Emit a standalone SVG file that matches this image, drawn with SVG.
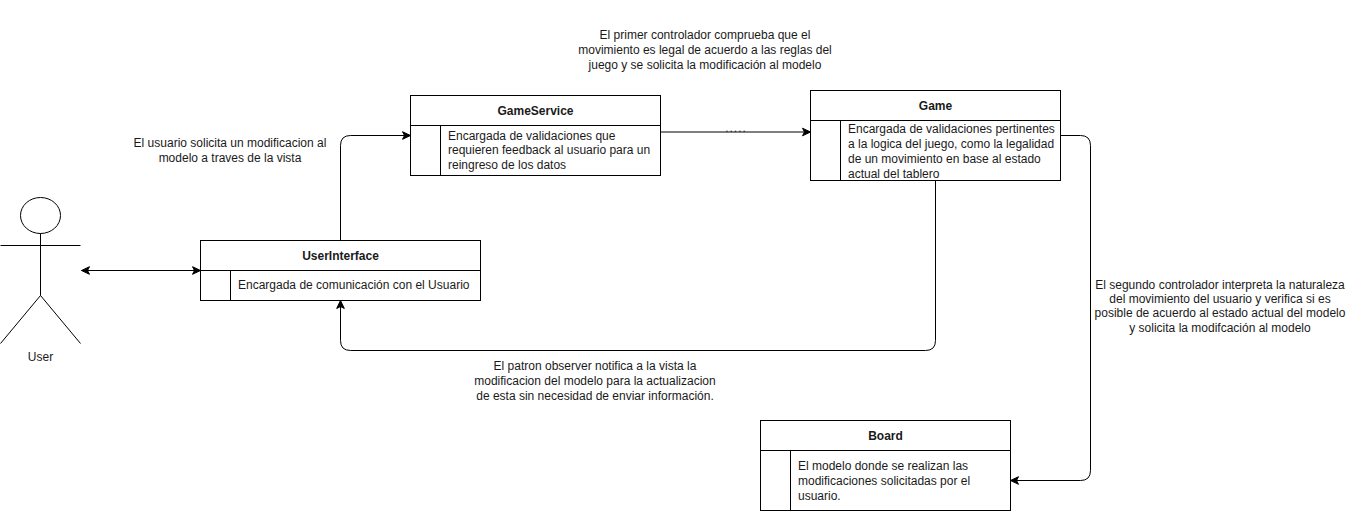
<svg xmlns="http://www.w3.org/2000/svg" width="1351" height="511" viewBox="0 0 1351 511">
<defs>
<marker id="arrow" markerUnits="userSpaceOnUse" markerWidth="10" markerHeight="10" refX="9" refY="5" orient="auto-start-reverse"><path d="M1 1.200L9 5L1 8.800L3 5Z" fill="#000" stroke="#000" stroke-width="1"/></marker>
</defs>
<style>
text{font-family:"Liberation Sans",Arial,sans-serif;font-size:12px;fill:#1a1a1a}
.s{fill:none;stroke:#000;stroke-width:1}
.b{fill:#fff;stroke:#000;stroke-width:1}
.t{font-weight:bold;text-anchor:middle}
.m{text-anchor:middle}
.c{fill:none;stroke:#000;stroke-width:1;marker-end:url(#arrow)}
</style>
<rect width="1351" height="511" fill="#fff"/>
<g id="connectors">
<path class="c" style="marker-start:url(#arrow)" d="M81.500 270.500H200.500"/>
<path class="c" d="M340.500 240.500V145.500Q340.500 135.500 350.500 135.500H410.500"/>
<path class="c" d="M660.500 132H810.500"/>
<path class="c" d="M935.500 180.500V340.500Q935.500 350.500 925.500 350.500H350.500Q340.500 350.500 340.500 340.500V300.500"/>
<path class="c" d="M1060.500 135.500H1080.500Q1090.500 135.500 1090.500 145.500V470.500Q1090.500 480.500 1080.500 480.500H1010.500"/>
<text class="m" x="736" y="132" style="letter-spacing:1px">.....</text>
</g>
<g id="user">
<ellipse class="s" cx="40.500" cy="215.500" rx="20" ry="18"/>
<path class="s" d="M40.500 233.500V295.500M0.500 245.500H80.500M0.500 343.500L40.500 295.500L80.500 343.500"/>
<text class="m" x="40.500" y="361">User</text>
</g>
<g id="userinterface">
<rect class="b" x="200.500" y="240.500" width="280" height="60"/>
<path class="s" d="M200.500 270.500H480.500M230.500 270.500V300.500"/>
<text class="t" x="340.500" y="260">UserInterface</text>
<text x="238" y="289">Encargada de comunicación con el Usuario</text>
</g>
<g id="gameservice">
<rect class="b" x="410.500" y="95.500" width="250" height="80"/>
<path class="s" d="M410.500 125.500H660.500M440.500 125.500V175.500"/>
<text class="t" x="535.500" y="115">GameService</text>
<text x="448" y="140">Encargada de validaciones que</text>
<text x="448" y="154">requieren feedback al usuario para un</text>
<text x="448" y="169">reingreso de los datos</text>
</g>
<g id="game">
<rect class="b" x="810.500" y="90.500" width="250" height="90"/>
<path class="s" d="M810.500 120.500H1060.500M840.500 120.500V180.500"/>
<text class="t" x="935.500" y="110">Game</text>
<text x="848" y="133">Encargada de validaciones pertinentes</text>
<text x="848" y="148">a la logica del juego, como la legalidad</text>
<text x="848" y="163">de un movimiento en base al estado</text>
<text x="848" y="178">actual del tablero</text>
</g>
<g id="board">
<rect class="b" x="760.500" y="420.500" width="250" height="90"/>
<path class="s" d="M760.500 450.500H1010.500M790.500 450.500V510.500"/>
<text class="t" x="885.500" y="440">Board</text>
<text x="798" y="470">El modelo donde se realizan las</text>
<text x="798" y="485">modificaciones solicitadas por el</text>
<text x="798" y="500">usuario.</text>
</g>
<g id="labels">
<text class="m" x="230" y="147">El usuario solicita un modificacion al</text>
<text class="m" x="230" y="162">modelo a traves de la vista</text>
<text class="m" x="705" y="39">El primer controlador comprueba que el</text>
<text class="m" x="705" y="54">movimiento es legal de acuerdo a las reglas del</text>
<text class="m" x="705" y="69">juego y se solicita la modificación al modelo</text>
<text class="m" x="595" y="370">El patron observer notifica a la vista la</text>
<text class="m" x="595" y="385">modificacion del modelo para la actualizacion</text>
<text class="m" x="595" y="400">de esta sin necesidad de enviar información.</text>
<text class="m" x="1220" y="289">El segundo controlador interpreta la naturaleza</text>
<text class="m" x="1220" y="303">del movimiento del usuario y verifica si es</text>
<text class="m" x="1220" y="317">posible de acuerdo al estado actual del modelo</text>
<text class="m" x="1220" y="332">y solicita la modifcación al modelo</text>
</g>
</svg>
